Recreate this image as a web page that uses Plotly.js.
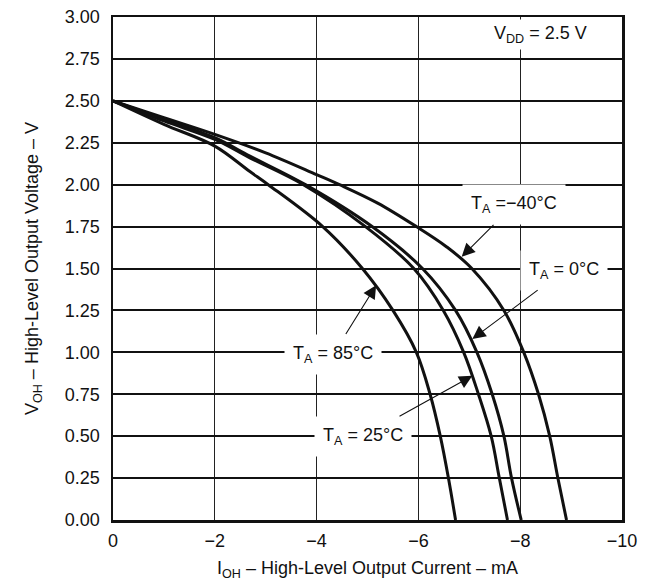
<!DOCTYPE html>
<html>
<head>
<meta charset="utf-8">
<script src="https://cdn.plot.ly/plotly-3.0.1.min.js"></script>
<style>html,body{margin:0;padding:0;background:#fff;}#chart{width:653px;height:588px;}</style>
</head>
<body>
<div id="chart"></div>
<script>
// I_OH (mA) and V_OH (V)
const I_m40 = [0, -1, -2, -3, -4, -4.45, -5.2, -5.96, -6.55, -7.05, -7.68, -8.07, -8.36, -8.58, -8.74, -8.91];
const V_m40 = [2.5, 2.40, 2.30, 2.19, 2.06, 2.0, 1.89, 1.75, 1.63, 1.5, 1.25, 1.0, 0.75, 0.5, 0.25, 0];

const I_0 = [0, -1, -2, -2.69, -3.78, -5.09, -6.08, -6.73, -7.15, -7.45, -7.68, -7.83, -8.02];
const V_0 = [2.5, 2.39, 2.28, 2.17, 2.0, 1.75, 1.5, 1.25, 1.0, 0.75, 0.5, 0.25, 0];

const I_25 = [0, -1, -2, -2.69, -3.74, -4.96, -5.91, -6.49, -6.89, -7.18, -7.43, -7.59, -7.75];
const V_25 = [2.5, 2.38, 2.27, 2.16, 2.0, 1.75, 1.5, 1.25, 1.0, 0.75, 0.5, 0.25, 0];

const I_85 = [0, -1, -2, -2.69, -3.05, -4.12, -4.9, -5.5, -5.96, -6.23, -6.43, -6.59, -6.73];
const V_85 = [2.5, 2.36, 2.23, 2.078, 2.0, 1.75, 1.5, 1.25, 1.0, 0.75, 0.5, 0.25, 0];

const xTickVals = [0, -2, -4, -6, -8, -10];
const xTickText = ['0', '\u22122', '\u22124', '\u22126', '\u22128', '\u221210'];
const yTickVals = [0, 0.25, 0.5, 0.75, 1.0, 1.25, 1.5, 1.75, 2.0, 2.25, 2.5, 2.75, 3.0];
const yTickText = ['0.00','0.25','0.50','0.75','1.00','1.25','1.50','1.75','2.00','2.25','2.50','2.75','3.00'];

const FONT = 'Liberation Sans, Arial, Helvetica, sans-serif';

const series = [[I_m40, V_m40], [I_0, V_0], [I_25, V_25], [I_85, V_85]];
const traces = series.map(s => ({
  x: s[0], y: s[1], type: 'scatter', mode: 'lines',
  line: {color: '#111', width: 3, shape: 'spline', smoothing: 1},
  hoverinfo: 'skip', showlegend: false
}));

function label(text, tx, ty, hx, hy) {
  return {
    text: text, x: hx, y: hy, ax: tx, ay: ty, axref: 'x', ayref: 'y', xref: 'x', yref: 'y',
    showarrow: true, arrowhead: 2, arrowsize: 2.4, arrowwidth: 1.1, arrowcolor: '#111',
    bgcolor: '#fff', borderpad: 8, font: {family: FONT, size: 18, color: '#111'}
  };
}

const layout = {
  width: 653, height: 588,
  margin: {l: 113, r: 31, t: 17, b: 68},
  paper_bgcolor: '#fff', plot_bgcolor: '#fff',
  font: {family: FONT, size: 18, color: '#111'},
  xaxis: {
    range: [0, -10], autorange: false,
    tickvals: xTickVals, ticktext: xTickText,
    showgrid: true, gridcolor: '#222', gridwidth: 1,
    zeroline: false, showline: true, mirror: true, linecolor: '#111', linewidth: 2.5,
    ticks: 'outside', ticklen: 3, tickcolor: 'rgba(0,0,0,0)',
    tickfont: {family: FONT, size: 18, color: '#111'},
    title: {text: 'I<sub>OH</sub> \u2013 High-Level Output Current \u2013 mA', font: {family: FONT, size: 18, color: '#111'}, standoff: 12}
  },
  yaxis: {
    range: [0, 3], autorange: false,
    tickvals: yTickVals, ticktext: yTickText,
    showgrid: true, gridcolor: '#111', gridwidth: 2,
    zeroline: false, showline: true, mirror: true, linecolor: '#111', linewidth: 2.5,
    ticks: 'outside', ticklen: 7, tickcolor: 'rgba(0,0,0,0)',
    tickfont: {family: FONT, size: 18, color: '#111'},
    title: {text: 'V<sub>OH</sub> \u2013 High-Level Output Voltage \u2013 V', font: {family: FONT, size: 18, color: '#111'}, standoff: 22}
  },
  annotations: [
    {text: 'V<sub>DD</sub> = 2.5 V', x: -8.39, y: 2.894, xref: 'x', yref: 'y', showarrow: false,
     bgcolor: '#fff', borderpad: 3, font: {family: FONT, size: 18, color: '#111'}},
    label('T<sub>A</sub> =\u221240\u00b0C', -7.87, 1.879, -6.85, 1.57),
    label('T<sub>A</sub> = 0\u00b0C', -8.87, 1.49, -7.06, 1.08),
    label('T<sub>A</sub> = 85\u00b0C', -4.33, 0.99, -5.17, 1.40),
    label('T<sub>A</sub> = 25\u00b0C', -4.92, 0.50, -7.06, 0.86)
  ]
};

Plotly.newPlot('chart', traces, layout, {staticPlot: true, displayModeBar: false});
</script>
</body>
</html>
